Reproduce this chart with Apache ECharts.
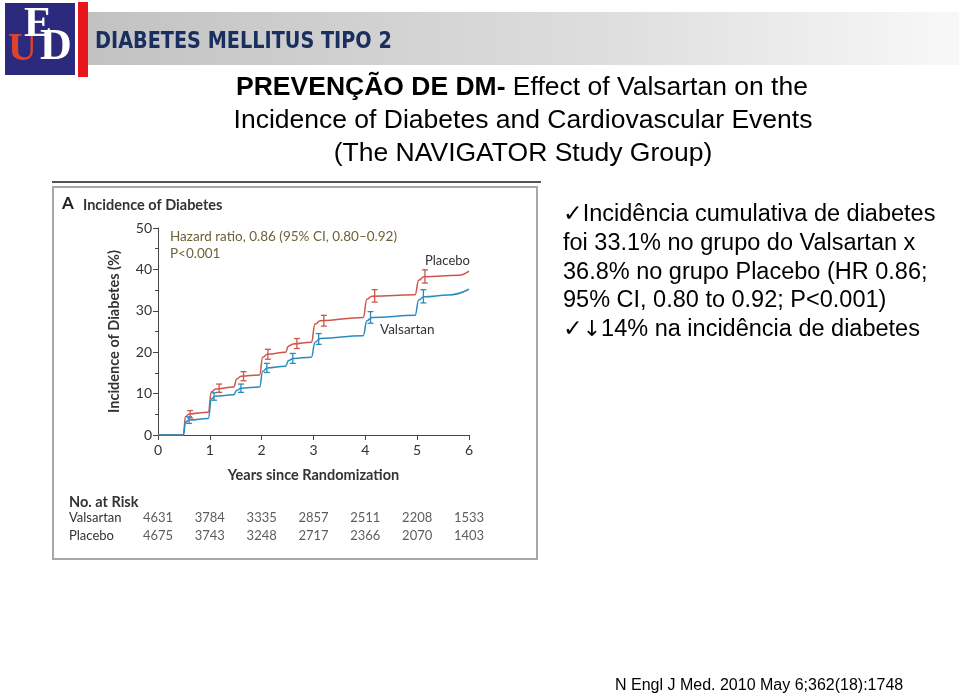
<!DOCTYPE html>
<html>
<head>
<meta charset="utf-8">
<script src="https://cdn.jsdelivr.net/npm/echarts@6/dist/echarts.min.js"></script>
<style>
html,body{margin:0;padding:0;background:#fff;}
#main{width:959px;height:696px;}
</style>
</head>
<body>
<div id="main"></div>
<script>
// ---- Data ----
const placeboCurve = [[0,0],[0.49,0],[0.53,4.4],[0.6,5.1],[0.97,5.5],[1.03,10.4],[1.11,11.1],[1.46,11.6],[1.52,13.5],[1.6,14.2],[1.96,14.5],[2.02,18.8],[2.11,19.5],[2.46,20.0],[2.52,21.5],[2.61,22.0],[2.96,22.4],[3.03,26.8],[3.13,27.6],[3.96,28.4],[4.03,32.8],[4.13,33.5],[4.96,33.9],[5.03,37.4],[5.13,38.2],[5.8,38.6],[6.0,39.6]];
const valsartanCurve = [[0,0],[0.49,0],[0.53,3.1],[0.6,3.6],[0.97,4.0],[1.03,8.7],[1.11,9.4],[1.46,9.7],[1.52,10.8],[1.6,11.3],[1.96,11.6],[2.02,15.4],[2.11,16.2],[2.46,16.6],[2.52,18.0],[2.61,18.5],[2.96,18.8],[3.03,22.4],[3.13,23.3],[3.96,24.0],[4.03,27.6],[4.13,28.4],[4.96,28.9],[5.03,32.6],[5.13,33.4],[5.6,33.8],[6.0,35.2]];
const placeboErrX = [0.62,1.18,1.65,2.12,2.68,3.2,4.18,5.15];
const placeboErrY = [5.0,11.3,14.2,19.5,22.1,27.6,33.6,38.3];
const placeboErrHalf = [0.9,1.0,1.1,1.2,1.2,1.3,1.5,1.6];
const valsartanErrX = [0.6,1.08,1.6,2.1,2.6,3.1,4.1,5.12];
const valsartanErrY = [3.6,9.3,11.3,16.2,18.5,23.2,28.4,33.5];
const valsartanErrHalf = [0.8,0.9,1.0,1.1,1.2,1.3,1.4,1.6];
const riskYears = [0,1,2,3,4,5,6];
const valsartanAtRisk = [4631,3784,3335,2857,2511,2208,1533];
const placeboAtRisk = [4675,3743,3248,2717,2366,2070,1403];
const riskRows = ['Placebo','Valsartan'];

const RED = '#cd5648';
const BLUE = '#2a8bbf';
const chartFont = 'Lato, "Open Sans", sans-serif';
const slideFont = '"Liberation Sans", Arial, "DejaVu Sans", sans-serif';

const chart = echarts.init(document.getElementById('main'), null, {renderer:'canvas'});

function errRender(params, api){
  const x = api.value(0), y = api.value(1), e = api.value(2);
  const t = api.coord([x, y+e]), b = api.coord([x, y-e]);
  const hw = 3;
  const c = api.visual('color');
  const st = {stroke:c, lineWidth:1.3};
  return {type:'group', children:[
    {type:'line', shape:{x1:t[0],y1:t[1],x2:b[0],y2:b[1]}, style:st},
    {type:'line', shape:{x1:t[0]-hw,y1:t[1],x2:t[0]+hw,y2:t[1]}, style:st},
    {type:'line', shape:{x1:b[0]-hw,y1:b[1],x2:b[0]+hw,y2:b[1]}, style:st}
  ]};
}

const option = {
  animation:false,
  backgroundColor:'#fff',
  grid:[
    {left:158, top:228, width:311, height:207},
    {left:158, top:509, width:311, height:36}
  ],
  xAxis:[
    {type:'value', gridIndex:0, min:0, max:6, interval:1,
     name:'Years since Randomization', nameLocation:'middle', nameGap:33,
     nameTextStyle:{fontFamily:chartFont, fontWeight:'bold', fontSize:14.5, color:'#333'},
     axisLine:{lineStyle:{color:'#444', width:1}},
     axisTick:{show:true, length:5, lineStyle:{color:'#444'}},
     axisLabel:{margin:8, fontFamily:chartFont, fontSize:14, color:'#333'},
     splitLine:{show:false}},
    {type:'value', gridIndex:1, min:0, max:6, show:false}
  ],
  yAxis:[
    {type:'value', gridIndex:0, min:0, max:50, interval:10,
     name:'Incidence of Diabetes (%)', nameLocation:'middle', nameGap:36,
     nameTextStyle:{fontFamily:chartFont, fontWeight:'bold', fontSize:14.5, color:'#333'},
     axisLine:{show:true, lineStyle:{color:'#444', width:1}},
     axisTick:{show:true, length:5, lineStyle:{color:'#444'}},
     minorTick:{show:true, splitNumber:2, length:3, lineStyle:{color:'#444'}},
     axisLabel:{margin:6, fontFamily:chartFont, fontSize:14, color:'#333'},
     splitLine:{show:false}},
    {type:'category', gridIndex:1, data:riskRows,
     axisLine:{show:false}, axisTick:{show:false},
     axisLabel:{margin:89, align:'left', fontFamily:chartFont, fontSize:13, color:'#333'}}
  ],
  series:[
    {name:'Placebo', type:'line', xAxisIndex:0, yAxisIndex:0, data:placeboCurve,
     smooth:0.45, smoothMonotone:'x', showSymbol:false, lineStyle:{color:RED, width:1.5}, itemStyle:{color:RED}, z:3},
    {name:'Valsartan', type:'line', xAxisIndex:0, yAxisIndex:0, data:valsartanCurve,
     smooth:0.45, smoothMonotone:'x', showSymbol:false, lineStyle:{color:BLUE, width:1.5}, itemStyle:{color:BLUE}, z:3},
    {type:'custom', xAxisIndex:0, yAxisIndex:0, renderItem:errRender, itemStyle:{color:RED}, z:4,
     data:placeboErrX.map((x,i)=>[x, placeboErrY[i], placeboErrHalf[i]])},
    {type:'custom', xAxisIndex:0, yAxisIndex:0, renderItem:errRender, itemStyle:{color:BLUE}, z:4,
     data:valsartanErrX.map((x,i)=>[x, valsartanErrY[i], valsartanErrHalf[i]])},
    {type:'scatter', xAxisIndex:1, yAxisIndex:1, symbolSize:0, silent:true,
     data:riskYears.map((x,i)=>[x,'Valsartan',valsartanAtRisk[i]]),
     label:{show:true, position:'inside', formatter:p=>String(p.value[2]), fontFamily:chartFont, fontSize:13, color:'#333'}},
    {type:'scatter', xAxisIndex:1, yAxisIndex:1, symbolSize:0, silent:true,
     data:riskYears.map((x,i)=>[x,'Placebo',placeboAtRisk[i]]),
     label:{show:true, position:'inside', formatter:p=>String(p.value[2]), fontFamily:chartFont, fontSize:13, color:'#333'}}
  ],
  graphic:[
    // header band
    {type:'rect', left:88, top:12, shape:{width:871, height:53}, z:-1,
     style:{fill:new echarts.graphic.LinearGradient(0,0,1,0,[{offset:0,color:'#c2c2c2'},{offset:0.6,color:'#dedede'},{offset:1,color:'#f8f8f8'}])}},
    {type:'rect', left:5, top:3, shape:{width:70, height:72}, style:{fill:'#2b2a7c'}},
    {type:'rect', left:78, top:2, shape:{width:10, height:75}, style:{fill:'#e8151d'}},
    {type:'text', left:8, top:30, style:{text:'U', font:'bold 40px "Liberation Serif", serif', fill:'#d9442e'}},
    {type:'text', left:24, top:4, style:{text:'E', font:'bold 42px "Liberation Serif", serif', fill:'#ffffff'}},
    {type:'text', left:40, top:26, style:{text:'D', font:'bold 44px "Liberation Serif", serif', fill:'#ffffff'}},
    {type:'text', x:95, y:42, scaleX:0.93, style:{text:'DIABETES MELLITUS TIPO 2', verticalAlign:'middle', font:'bold 23px "DejaVu Sans Condensed", "Liberation Sans", sans-serif', fill:'#1a2f60'}},
    // title
    {type:'text', x:522, y:88, style:{text:'{b|PREVENÇÃO DE DM-} Effect of Valsartan on the', align:'center', verticalAlign:'middle',
      font:'26.5px ' + slideFont, fill:'#000',
      rich:{b:{font:'bold 26.5px ' + slideFont, fill:'#000'}}}},
    {type:'text', x:523, y:121, style:{text:'Incidence of Diabetes and Cardiovascular Events', align:'center', verticalAlign:'middle', font:'26.5px ' + slideFont, fill:'#000'}},
    {type:'text', x:523, y:154, style:{text:'(The NAVIGATOR Study Group)', align:'center', verticalAlign:'middle', font:'26.5px ' + slideFont, fill:'#000'}},
    // right bullet text
    {type:'text', x:563, y:215, style:{text:'✓Incidência cumulativa de diabetes', verticalAlign:'middle', font:'23.5px ' + slideFont, fill:'#000'}},
    {type:'text', x:563, y:244, style:{text:'foi 33.1% no grupo do Valsartan x', verticalAlign:'middle', font:'23.5px ' + slideFont, fill:'#000'}},
    {type:'text', x:563, y:273, style:{text:'36.8% no grupo Placebo (HR 0.86;', verticalAlign:'middle', font:'23.5px ' + slideFont, fill:'#000'}},
    {type:'text', x:563, y:301, style:{text:'95% CI, 0.80 to 0.92; P<0.001)', verticalAlign:'middle', font:'23.5px ' + slideFont, fill:'#000'}},
    {type:'text', x:563, y:330, style:{text:'✓{a|↓}14% na incidência de diabetes', verticalAlign:'middle', font:'23.5px ' + slideFont, fill:'#000',
      rich:{a:{font:'22px "DejaVu Sans", sans-serif', fill:'#000'}}}},
    // footnote
    {type:'text', x:615, y:686, style:{text:'N Engl J Med. 2010 May 6;362(18):1748', verticalAlign:'middle', font:'16px ' + slideFont, fill:'#000'}},
    // figure box
    {type:'line', shape:{x1:52, y1:182, x2:541, y2:182}, style:{stroke:'#555', lineWidth:2}},
    {type:'rect', shape:{x:53, y:187, width:484, height:372}, style:{fill:'none', stroke:'#a8a8a8', lineWidth:2}, z:-1},
    {type:'text', x:62, y:204, style:{text:'A', verticalAlign:'middle', font:'bold 17px ' + chartFont, fill:'#222'}},
    {type:'text', x:83, y:205, style:{text:'Incidence of Diabetes', verticalAlign:'middle', font:'bold 14.5px ' + chartFont, fill:'#333'}},
    {type:'text', x:170, y:237, style:{text:'Hazard ratio, 0.86 (95% CI, 0.80–0.92)', verticalAlign:'middle', font:'13.5px ' + chartFont, fill:'#6e6239'}},
    {type:'text', x:170, y:254, style:{text:'P<0.001', verticalAlign:'middle', font:'13.5px ' + chartFont, fill:'#6e6239'}},
    {type:'text', x:425, y:261, style:{text:'Placebo', verticalAlign:'middle', font:'13px ' + chartFont, fill:'#333'}},
    {type:'text', x:380, y:330, style:{text:'Valsartan', verticalAlign:'middle', font:'13.5px ' + chartFont, fill:'#333'}},
    {type:'text', x:69, y:502, style:{text:'No. at Risk', verticalAlign:'middle', font:'bold 14.5px ' + chartFont, fill:'#333'}}
  ]
};
chart.setOption(option);
</script>
</body>
</html>
